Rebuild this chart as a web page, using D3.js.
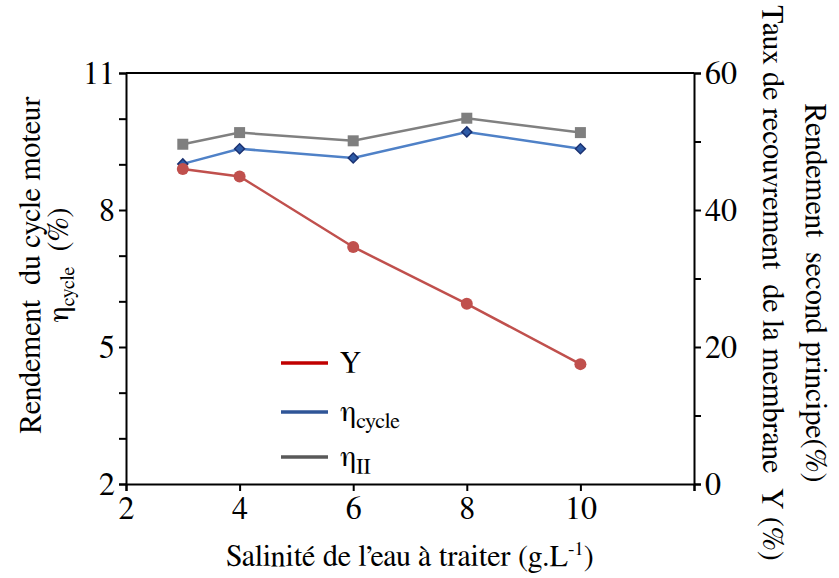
<!DOCTYPE html>
<html><head><meta charset="utf-8">
<script src="https://cdn.jsdelivr.net/npm/d3@7"></script>
<style>
html,body{margin:0;padding:0;background:#fff;}
svg{display:block;}
</style>
</head><body>
<script>
// ---- data ----
const salinity = [3, 4, 6, 8, 10];
const Yrec = [46.0, 44.9, 34.6, 26.3, 17.5];          // right axis (%)
const etaCycle = [9.01, 9.34, 9.14, 9.71, 9.34];       // left axis (%)
const etaII = [49.6, 51.3, 50.1, 53.4, 51.3];          // right axis (%)
const xTicks = [2, 4, 6, 8, 10, 12];
const xLabels = [2, 4, 6, 8, 10];
const leftTicks = [2, 3, 4, 5, 6, 7, 8, 9, 10, 11];
const leftLabels = [2, 5, 8, 11];
const rightTicks = [0, 10, 20, 30, 40, 50, 60];
const rightLabels = [0, 20, 40, 60];

// pick an installed serif face (Times-like preferred)
function pickFont() {
  const c = document.createElement("canvas").getContext("2d");
  const s = "Rendement du cycle moteur 0123456789 Salinité WMiil";
  const base = ["monospace", "sans-serif", "cursive"];
  const bw = base.map(b => { c.font = `30px ${b}`; return c.measureText(s).width; });
  const cands = ["Liberation Serif", "Tinos", "Times New Roman", "Times", "Nimbus Roman", "Nimbus Roman No9 L",
    "FreeSerif", "DejaVu Serif", "Noto Serif", "Bitstream Vera Serif", "Georgia", "Droid Serif", "STIX Two Text"];
  for (const f of cands) {
    const ws = base.map(b => { c.font = `30px "${f}", ${b}`; return c.measureText(s).width; });
    if (ws.every((w, i) => Math.abs(w - bw[i]) > 0.5)) return `"${f}", serif`;
  }
  return "serif";
}
const font = pickFont();

const W = 839, H = 578;
const L = 126, R = 694, T = 73, B = 484;

const svg = d3.select("body").append("svg").attr("width", W).attr("height", H)
  .style("font-family", font);
svg.append("rect").attr("width", W).attr("height", H).attr("fill", "#fff");

const x = d3.scaleLinear().domain([2, 12]).range([L, R]);
const yL = d3.scaleLinear().domain([2, 11]).range([B, T]);
const yR = d3.scaleLinear().domain([0, 60]).range([B, T]);

svg.append("line").attr("x1", L).attr("x2", R).attr("y1", T).attr("y2", T)
  .attr("stroke", "#000").attr("stroke-width", 2);

function styleAxis(g) {
  g.attr("font-family", null).attr("font-size", 32);
  g.select(".domain").attr("stroke", "#000").attr("stroke-width", 2);
  g.selectAll(".tick line").attr("stroke", "#000").attr("stroke-width", 2);
  g.selectAll(".tick text").attr("fill", "#000").style("font-family", font).attr("font-size", 32);
}

const gx = svg.append("g").attr("transform", `translate(0,${B})`)
  .call(d3.axisBottom(x).tickValues(xTicks).tickSizeOuter(0).tickSize(7).tickPadding(5)
    .tickFormat(d => xLabels.includes(d) ? d : ""));
styleAxis(gx);

const gl = svg.append("g").attr("transform", `translate(${L},0)`)
  .call(d3.axisLeft(yL).tickValues(leftTicks).tickSizeOuter(0).tickSize(7).tickPadding(4)
    .tickFormat(d => leftLabels.includes(d) ? d : ""));
styleAxis(gl);

const gr = svg.append("g").attr("transform", `translate(${R},0)`)
  .call(d3.axisRight(yR).tickValues(rightTicks).tickSizeOuter(0).tickSize(7).tickPadding(4)
    .tickFormat(d => rightLabels.includes(d) ? d : ""));
styleAxis(gr);

// ---- series ----
const gray = "#808080", blue = "#4f81c7", red = "#c0504d";
const line = (yS, vals) => d3.line().x((d, i) => x(salinity[i])).y((d, i) => yS(vals[i]))(vals);

svg.append("path").attr("d", line(yR, etaII)).attr("fill", "none").attr("stroke", gray).attr("stroke-width", 2.5);
svg.selectAll(".sq").data(etaII).enter().append("rect")
  .attr("x", (d, i) => x(salinity[i]) - 5.5).attr("y", d => yR(d) - 5.5)
  .attr("width", 11).attr("height", 11).attr("fill", "#7f7f7f");

svg.append("path").attr("d", line(yL, etaCycle)).attr("fill", "none").attr("stroke", blue).attr("stroke-width", 2.5);
svg.selectAll(".dm").data(etaCycle).enter().append("path")
  .attr("d", d3.symbol().type(d3.symbolSquare).size(50)())
  .attr("transform", (d, i) => `translate(${x(salinity[i])},${yL(d)}) rotate(45)`)
  .attr("fill", "#2e5ba6").attr("stroke", "#1b3272").attr("stroke-width", 1.5);

svg.append("path").attr("d", line(yR, Yrec)).attr("fill", "none").attr("stroke", red).attr("stroke-width", 2.5);
svg.selectAll(".ci").data(Yrec).enter().append("circle")
  .attr("cx", (d, i) => x(salinity[i])).attr("cy", d => yR(d)).attr("r", 6).attr("fill", red);

// ---- legend ----
const legend = [
  {main: "Y", sub: "", color: "#c00000", y: 363},
  {main: "η", sub: "cycle", color: "#2f5597", y: 412},
  {main: "η", sub: "II", color: "#595959", y: 457}
];
legend.forEach(l => {
  svg.append("line").attr("x1", 281).attr("x2", 328).attr("y1", l.y).attr("y2", l.y)
    .attr("stroke", l.color).attr("stroke-width", 3.5);
  const t = svg.append("text").attr("x", 340).attr("y", l.y + 9).attr("font-size", 30).attr("fill", "#000");
  t.append("tspan").text(l.main);
  if (l.sub) t.append("tspan").attr("dy", 7).attr("font-size", 22).text(l.sub);
});

// ---- axis titles ----
const xt = svg.append("text").attr("x", (L + R) / 2).attr("y", 566).attr("text-anchor", "middle")
  .attr("font-size", 30).attr("fill", "#000");
xt.append("tspan").text("Salinité de l’eau à traiter (g.L");
xt.append("tspan").attr("dy", -11).attr("font-size", 19).text("-1");
xt.append("tspan").attr("dy", 11).text(")");

const lt = svg.append("g").attr("transform", "translate(40,265) rotate(-90)");
lt.append("text").attr("x", 0).attr("y", 0).attr("text-anchor", "middle").attr("font-size", 30)
  .attr("fill", "#000").attr("xml:space", "preserve").text("Rendement  du cycle moteur");
const lt2 = lt.append("text").attr("x", 0).attr("y", 28).attr("text-anchor", "middle").attr("font-size", 30)
  .attr("fill", "#000").attr("xml:space", "preserve");
lt2.append("tspan").text("η");
lt2.append("tspan").attr("dy", 6).attr("font-size", 20).text("cycle");
lt2.append("tspan").attr("dy", -6).text("  (%)");

const rt = svg.append("g").attr("transform", "translate(763,283) rotate(90)");
rt.append("text").attr("x", 0).attr("y", 0).attr("text-anchor", "middle").attr("font-size", 30)
  .attr("fill", "#000").attr("xml:space", "preserve").text("Taux de recouvrement  de la membrane  Y (%)");
const rt2 = svg.append("g").attr("transform", "translate(806,293) rotate(90)");
rt2.append("text").attr("x", 0).attr("y", 0).attr("text-anchor", "middle").attr("font-size", 30)
  .attr("fill", "#000").attr("xml:space", "preserve").text("Rendement  second principe(%)");
</script>
</body></html>
